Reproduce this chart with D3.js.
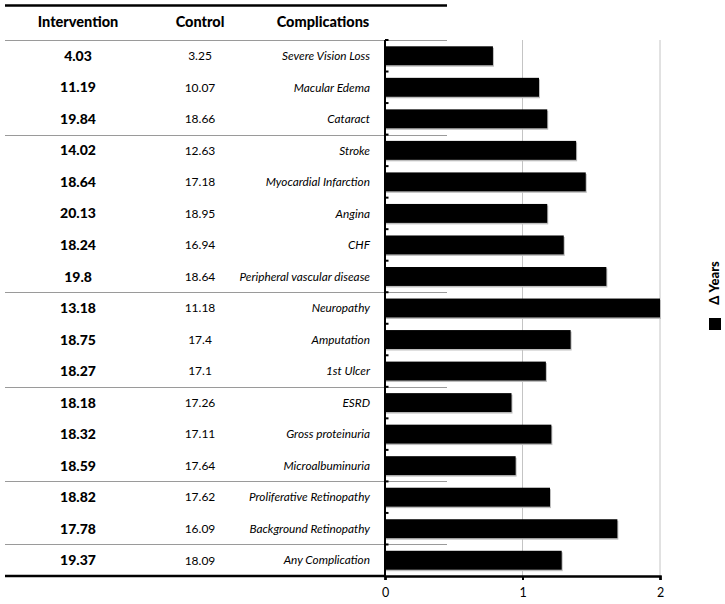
<!DOCTYPE html>
<html>
<head>
<meta charset="utf-8">
<script src="https://cdn.jsdelivr.net/npm/d3@7"></script>
<style>
  html, body { margin: 0; padding: 0; background: #fff; }
  svg { display: block; }
  text { font-family: Lato, "Open Sans", sans-serif; fill: #000; }
</style>
</head>
<body>
<svg id="chart" width="725" height="604"></svg>
<script>
const categories = ["Severe Vision Loss","Macular Edema","Cataract","Stroke","Myocardial Infarction","Angina","CHF","Peripheral vascular disease","Neuropathy","Amputation","1st Ulcer","ESRD","Gross proteinuria","Microalbuminuria","Proliferative Retinopathy","Background Retinopathy","Any Complication"];
const intervention = ["4.03","11.19","19.84","14.02","18.64","20.13","18.24","19.8","13.18","18.75","18.27","18.18","18.32","18.59","18.82","17.78","19.37"];
const control = ["3.25","10.07","18.66","12.63","17.18","18.95","16.94","18.64","11.18","17.4","17.1","17.26","17.11","17.64","17.62","16.09","18.09"];
const deltaYears = [0.785, 1.12, 1.18, 1.39, 1.46, 1.18, 1.30, 1.61, 2.0, 1.35, 1.17, 0.92, 1.21, 0.95, 1.20, 1.69, 1.285];
const groupEnds = ["Cataract","Peripheral vascular disease","1st Ulcer","Microalbuminuria","Background Retinopathy"];
const headers = ["Intervention","Control","Complications"];
const xTicks = [0, 1, 2];
const legendLabel = "\u0394 Years";

const svg = d3.select("#chart");
const tblLeft = 5, tableRight = 447, axisX = 385, xMaxPx = 660;
const yTop = 40, yBottom = 576;

const x = d3.scaleLinear().domain([0, 2]).range([axisX, xMaxPx]);
const y = d3.scaleBand().domain(categories).range([yTop, yBottom]).paddingInner(0.4).paddingOuter(0.2);
const step = y.step();
const rowTop = c => y(c) - y.paddingOuter() * step;
const rowMid = c => y(c) + y.bandwidth() / 2;

// gridlines
svg.append("g").selectAll("line").data(xTicks.filter(t => t > 0)).join("line")
  .attr("x1", d => x(d)).attr("x2", d => x(d))
  .attr("y1", yTop).attr("y2", yBottom)
  .attr("stroke", "#c4c4c4").attr("stroke-width", 1);

// top thick line
svg.append("line").attr("x1", tblLeft).attr("x2", tableRight).attr("y1", 5.5).attr("y2", 5.5)
  .attr("stroke", "#000").attr("stroke-width", 2.5);

// header line + group separators
const sepYs = [yTop].concat(groupEnds.map(c => rowTop(c) + step));
svg.append("g").selectAll("line").data(sepYs).join("line")
  .attr("x1", tblLeft).attr("x2", tableRight)
  .attr("y1", d => Math.round(d) + 0.5).attr("y2", d => Math.round(d) + 0.5)
  .attr("stroke", "#9a9a9a").attr("stroke-width", 1);

// headers
const colX = [78, 200, 323];
svg.append("g").selectAll("text").data(headers).join("text")
  .attr("x", (d, i) => colX[i]).attr("y", 27)
  .attr("text-anchor", "middle")
  .style("font-weight", "900").style("font-size", "14.5px")
  .text(d => d);

// table rows
const rows = svg.append("g");
rows.selectAll("text.int").data(categories).join("text").attr("class", "int")
  .attr("x", colX[0]).attr("y", c => rowMid(c)).attr("dy", "0.36em")
  .attr("text-anchor", "middle").style("font-weight", "900").style("font-size", "14px")
  .text((c, i) => intervention[i]);
rows.selectAll("text.ctl").data(categories).join("text").attr("class", "ctl")
  .attr("x", colX[1]).attr("y", c => rowMid(c)).attr("dy", "0.36em")
  .attr("text-anchor", "middle").style("font-size", "12px")
  .text((c, i) => control[i]);
rows.selectAll("text.cat").data(categories).join("text").attr("class", "cat")
  .attr("x", 370).attr("y", c => rowMid(c)).attr("dy", "0.36em")
  .attr("text-anchor", "end").style("font-style", "italic").style("font-size", "11.8px")
  .text(c => c);

// bars with subtle shadow
const bars = svg.append("g");
bars.selectAll("rect.sh").data(categories).join("rect").attr("class", "sh")
  .attr("x", x(0) + 1).attr("y", c => y(c) + 1.5)
  .attr("width", (c, i) => x(deltaYears[i]) - x(0)).attr("height", y.bandwidth())
  .attr("fill", "#bdbdbd");
bars.selectAll("rect.bar").data(categories).join("rect").attr("class", "bar")
  .attr("x", x(0)).attr("y", c => y(c))
  .attr("width", (c, i) => x(deltaYears[i]) - x(0)).attr("height", y.bandwidth())
  .attr("fill", "#000");

// y axis line and ticks at band boundaries
svg.append("line").attr("x1", axisX).attr("x2", axisX).attr("y1", yTop).attr("y2", yBottom)
  .attr("stroke", "#000").attr("stroke-width", 2);
const bounds = categories.map(c => rowTop(c));
svg.append("g").selectAll("line").data(bounds).join("line")
  .attr("x1", axisX).attr("x2", axisX + 3.5)
  .attr("y1", d => d).attr("y2", d => d)
  .attr("stroke", "#000").attr("stroke-width", 2);

// bottom thick line (table) + x axis
svg.append("line").attr("x1", tblLeft).attr("x2", axisX).attr("y1", yBottom).attr("y2", yBottom)
  .attr("stroke", "#000").attr("stroke-width", 2.5);
const xAxis = d3.axisBottom(x).tickValues(xTicks).tickSize(4).tickFormat(d3.format("d"));
const gx = svg.append("g").attr("transform", `translate(0,${yBottom})`).call(xAxis);
gx.select(".domain").attr("stroke", "#000").attr("stroke-width", 2.5);
gx.selectAll(".tick line").attr("stroke", "#000").attr("stroke-width", 2);
gx.selectAll(".tick text").attr("y", 12).style("font-size", "12.5px")
  .style("font-family", "Lato, 'Open Sans', sans-serif").attr("fill", "#000");

// legend
svg.append("text").attr("transform", "translate(719,283) rotate(-90)")
  .attr("text-anchor", "middle").style("font-weight", "900").style("font-size", "13px")
  .text(legendLabel);
svg.append("rect").attr("x", 709).attr("y", 318).attr("width", 12).attr("height", 12).attr("fill", "#000");
</script>
</body>
</html>
